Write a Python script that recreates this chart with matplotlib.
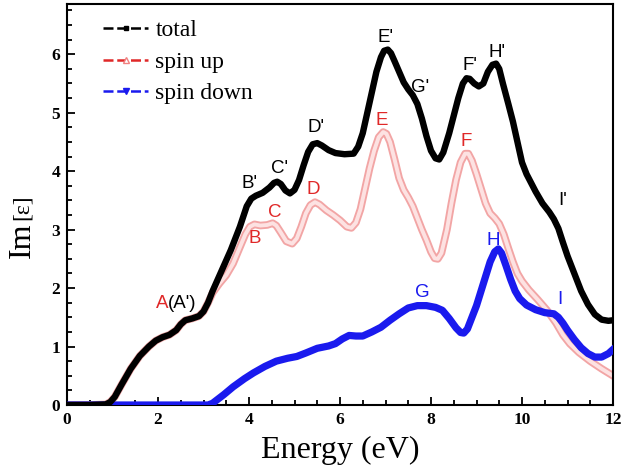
import matplotlib
matplotlib.use("Agg")
import matplotlib.pyplot as plt
from matplotlib.lines import Line2D
from matplotlib.ticker import MultipleLocator

# ---- data ----
total_x = [0, 0.5, 0.85, 0.95, 1.05, 1.2, 1.4, 1.6, 1.8, 1.95, 2.1, 2.25, 2.4, 2.5, 2.6,
           2.75, 2.9, 3.0, 3.1, 3.2, 3.4, 3.6, 3.8, 3.95, 4.05, 4.15, 4.3, 4.45, 4.55, 4.62,
           4.7, 4.8, 4.9, 5.0, 5.1, 5.2, 5.3, 5.4, 5.5, 5.6, 5.75, 5.9, 6.1, 6.3, 6.4,
           6.5, 6.6, 6.7, 6.8, 6.9, 6.97, 7.05, 7.12, 7.2, 7.3, 7.4, 7.5, 7.6, 7.7, 7.8,
           7.9, 8.0, 8.1, 8.18, 8.27, 8.4, 8.5, 8.6, 8.7, 8.78, 8.85, 8.95, 9.05, 9.15,
           9.25, 9.35, 9.43, 9.5, 9.58, 9.7, 9.8, 9.9, 10.0, 10.1, 10.2, 10.3, 10.45, 10.6,
           10.7, 10.8, 10.9, 11.0, 11.15, 11.3, 11.45, 11.6, 11.75, 11.9, 12.0]
total_y = [0, 0, 0.01, 0.05, 0.14, 0.35, 0.62, 0.84, 1.0, 1.1, 1.16, 1.2, 1.28, 1.38, 1.45,
           1.48, 1.52, 1.6, 1.75, 1.95, 2.3, 2.65, 3.05, 3.4, 3.53, 3.58, 3.63, 3.72, 3.8, 3.82,
           3.78, 3.67, 3.62, 3.68, 3.85, 4.1, 4.33, 4.46, 4.48, 4.44, 4.36, 4.31, 4.29, 4.3, 4.42,
           4.65, 5.0, 5.35, 5.7, 5.95, 6.06, 6.08, 6.02, 5.88, 5.7, 5.52, 5.4, 5.3, 5.15, 4.9,
           4.6, 4.35, 4.22, 4.2, 4.32, 4.65, 4.95, 5.25, 5.5, 5.59, 5.58, 5.5, 5.45, 5.5,
           5.7, 5.82, 5.84, 5.75, 5.5, 5.15, 4.85, 4.5, 4.15, 3.95, 3.8, 3.65, 3.45, 3.3,
           3.18, 3.02, 2.78, 2.55, 2.25, 1.95, 1.72, 1.55, 1.46, 1.44, 1.45]

up_x = [0, 0.5, 0.85, 0.95, 1.05, 1.2, 1.4, 1.6, 1.8, 1.95, 2.1, 2.25, 2.4, 2.5, 2.6,
        2.75, 2.9, 3.0, 3.1, 3.2, 3.35, 3.5, 3.65, 3.8, 3.92, 4.02, 4.12, 4.25, 4.4, 4.52,
        4.6, 4.7, 4.82, 4.95, 5.05, 5.15, 5.25, 5.35, 5.45, 5.55, 5.7, 5.85, 6.0, 6.15,
        6.25, 6.35, 6.45, 6.55, 6.65, 6.75, 6.85, 6.95, 7.02, 7.1, 7.2, 7.3, 7.4, 7.5,
        7.6, 7.7, 7.8, 7.9, 8.0, 8.08, 8.15, 8.23, 8.35, 8.45, 8.55, 8.65, 8.75, 8.82,
        8.9, 9.0, 9.1, 9.2, 9.3, 9.4, 9.5, 9.6, 9.7, 9.8, 9.9, 10.0, 10.15, 10.35, 10.55,
        10.75, 10.9, 11.05, 11.25, 11.5, 11.75, 12.0]
up_y = [0, 0, 0.01, 0.05, 0.14, 0.35, 0.62, 0.84, 1.0, 1.1, 1.16, 1.2, 1.28, 1.38, 1.45,
        1.48, 1.52, 1.6, 1.75, 1.92, 2.08, 2.22, 2.42, 2.7, 2.92, 3.05, 3.09, 3.07, 3.08, 3.11,
        3.07, 2.95, 2.8, 2.76, 2.85, 3.05, 3.28, 3.42, 3.47, 3.43, 3.33, 3.25, 3.16, 3.05,
        3.03, 3.12, 3.35, 3.7, 4.05, 4.35, 4.58, 4.67, 4.64, 4.5, 4.2, 3.88, 3.68, 3.55,
        3.4, 3.2, 3.0, 2.82, 2.62, 2.51, 2.5, 2.6, 3.0, 3.45, 3.85, 4.15, 4.3, 4.3,
        4.18, 3.95, 3.7, 3.45, 3.28, 3.2, 3.1, 2.92, 2.68, 2.45, 2.25, 2.12, 1.97, 1.8, 1.62,
        1.4, 1.2, 1.05, 0.9, 0.75, 0.62, 0.5]

down_x = [0, 3.1, 3.2, 3.3, 3.45, 3.65, 3.9, 4.1, 4.35, 4.6, 4.85, 5.05, 5.25, 5.5, 5.75,
          5.9, 6.05, 6.2, 6.35, 6.5, 6.7, 6.9, 7.1, 7.3, 7.5, 7.7, 7.9, 8.1, 8.25, 8.4,
          8.55, 8.65, 8.72, 8.8, 8.9, 9.0, 9.1, 9.2, 9.3, 9.4, 9.48, 9.55, 9.65, 9.75,
          9.85, 9.95, 10.1, 10.3, 10.5, 10.7, 10.8, 10.9, 11.0, 11.15, 11.3, 11.45, 11.6,
          11.75, 11.9, 12.0]
down_y = [0, 0, 0.03, 0.09, 0.18, 0.31, 0.45, 0.55, 0.66, 0.75, 0.8, 0.83, 0.89, 0.97, 1.01,
          1.05, 1.13, 1.19, 1.18, 1.18, 1.25, 1.33, 1.45, 1.56, 1.66, 1.7, 1.7, 1.67, 1.62, 1.48,
          1.32, 1.24, 1.23, 1.3, 1.5, 1.7, 1.95, 2.2, 2.45, 2.62, 2.67, 2.6, 2.38, 2.15,
          1.95, 1.82, 1.71, 1.63, 1.58, 1.56, 1.5, 1.4, 1.28, 1.12, 0.98, 0.88, 0.82,
          0.82, 0.88, 0.95]

legend_labels = ["total", "spin up", "spin down"]

peak_labels_total = [("B'", 4.02, 3.79), ("C'", 4.66, 4.05), ("D'", 5.47, 4.74),
                     ("E'", 6.99, 6.29), ("G'", 7.76, 5.44), ("F'", 8.86, 5.81),
                     ("H'", 9.45, 6.03), ("I'", 10.9, 3.5)]
peak_labels_up = [("B", 4.13, 2.85), ("C", 4.57, 3.3), ("D", 5.41, 3.68),
                  ("E", 6.92, 4.87), ("F", 8.77, 4.5)]
peak_labels_down = [("G", 7.82, 1.93), ("H", 9.36, 2.82), ("I", 10.84, 1.8)]

# ---- figure ----
fig = plt.figure(figsize=(6.24, 4.75), dpi=100)
ax = fig.add_axes([67 / 624, 70 / 475, (613 - 67) / 624, (405 - 4) / 475])

RED = "#e02828"
BLUE = "#1a1aee"
ax.plot(up_x, up_y, color="#f2a5a5", lw=5.5, solid_joinstyle="round", zorder=2)
ax.plot(up_x, up_y, color="#fde2e2", lw=2.8, solid_joinstyle="round", zorder=2.1)
ax.plot(down_x, down_y, color=BLUE, lw=5.2, solid_joinstyle="round", zorder=3)
ax.plot(total_x, total_y, color="black", lw=4.6, solid_joinstyle="round", zorder=4)

ax.set_xlim(0, 12)
ax.set_ylim(0, 6.86)
ax.xaxis.set_major_locator(MultipleLocator(2))
ax.xaxis.set_minor_locator(MultipleLocator(0.5))
ax.yaxis.set_major_locator(MultipleLocator(1))
ax.yaxis.set_minor_locator(MultipleLocator(0.25))
ax.tick_params(which="both", direction="in", top=False, right=False, width=1.3)
ax.tick_params(which="major", length=6, pad=5)
ax.tick_params(which="minor", length=3.5)
for s in ax.spines.values():
    s.set_linewidth(1.5)

serif = "Liberation Serif"
for lab in ax.get_xticklabels() + ax.get_yticklabels():
    lab.set_fontfamily(serif)
    lab.set_fontweight("bold")
    lab.set_fontsize(12.5)
ax.set_xlabel("Energy (eV)", fontfamily=serif, fontsize=23, labelpad=6)

# y label: "Im" with a smaller "[ε]"
fig.text(22 / 624, 1 - 258 / 475, "Im", rotation=90, fontfamily=serif, fontsize=23,
         ha="center", va="bottom")
fig.text(22 / 624, 1 - 220 / 475, "[ε]", rotation=90, fontfamily=serif, fontsize=17,
         ha="center", va="bottom")

sans = "Liberation Sans"
ax.text(2.22, 1.74, "A", color=RED, fontfamily=sans, fontsize=13.5, ha="right", va="center")
ax.text(2.22, 1.74, "(A')", color="black", fontfamily=sans, fontsize=13.5, ha="left", va="center")
for t, x, y in peak_labels_total:
    ax.text(x, y, t, color="black", fontfamily=sans, fontsize=13.5, ha="center", va="center")
for t, x, y in peak_labels_up:
    ax.text(x, y, t, color=RED, fontfamily=sans, fontsize=13.5, ha="center", va="center")
for t, x, y in peak_labels_down:
    ax.text(x, y, t, color=BLUE, fontfamily=sans, fontsize=13.5, ha="center", va="center")

handles = [
    Line2D([], [], color="black", ls=(0, (4, 1.5)), lw=1.8, marker="s", ms=3.5),
    Line2D([], [], color=RED, ls=(0, (4, 1.5)), lw=1.8, marker="^", ms=4.5,
           markerfacecolor="white", markeredgecolor="#f08080"),
    Line2D([], [], color=BLUE, ls=(0, (4, 1.5)), lw=1.8, marker="v", ms=4.5),
]
ax.legend(handles, legend_labels, loc="upper left", frameon=False,
          prop={"family": serif, "size": 17}, handlelength=1.9, handletextpad=0.3,
          labelspacing=0.42, borderaxespad=0.3, borderpad=0.2,
          bbox_to_anchor=(0.045, 0.99))

fig.savefig("out.png", dpi=100)
